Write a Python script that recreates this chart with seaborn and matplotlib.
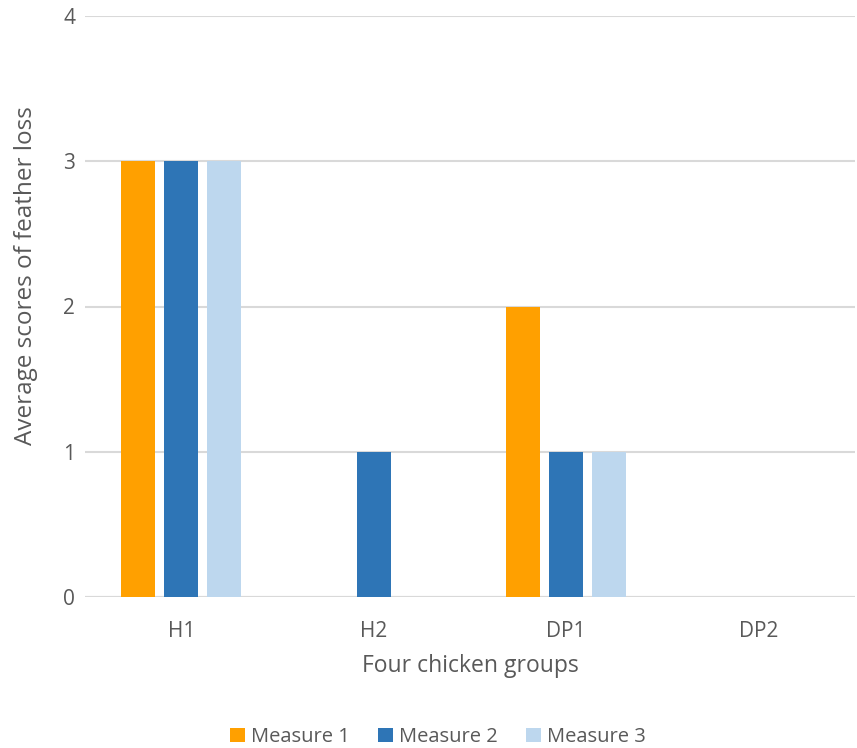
import matplotlib
matplotlib.use("Agg")
import matplotlib.pyplot as plt
import seaborn as sns
import pandas as pd
from matplotlib.patches import Patch

groups = ["H1", "H2", "DP1", "DP2"]
measure_1 = [3, 0, 2, 0]
measure_2 = [3, 1, 1, 0]
measure_3 = [3, 0, 1, 0]
series_names = ["Measure 1", "Measure 2", "Measure 3"]
colors = ["#FFA000", "#2E75B6", "#BDD7EE"]

df = pd.DataFrame({
    "group": groups * 3,
    "score": measure_1 + measure_2 + measure_3,
    "measure": [s for s in series_names for _ in groups],
})

sns.set_theme(style="white")
plt.rcParams["font.family"] = ["Open Sans", "DejaVu Sans"]
text_color = "#595959"

W, H = 857, 748
fig = plt.figure(figsize=(W / 100, H / 100), dpi=100)
ax = fig.add_axes([85 / W, 1 - 597 / H, (855 - 85) / W, (597 - 16) / H])

sns.barplot(data=df, x="group", y="score", hue="measure", palette=colors,
            width=0.668, gap=0.21, ax=ax, legend=False, saturation=1,
            linewidth=0)

ax.set_ylim(0, 4)
ax.set_yticks([0, 1, 2, 3, 4])
ax.yaxis.grid(True, color="#D9D9D9", linewidth=1.5)
ax.set_axisbelow(True)
for s in ax.spines.values():
    s.set_visible(False)
ax.axhline(0, color="#D9D9D9", linewidth=1.5, zorder=0.5)
ax.tick_params(axis="both", length=0, colors=text_color, labelsize=15)
ax.tick_params(axis="y", pad=7)
ax.tick_params(axis="x", pad=17)
ax.set_xlabel("Four chicken groups", color=text_color, fontsize=16.5, labelpad=9)
ax.set_ylabel("Average scores of feather loss", color=text_color, fontsize=17.5)
# anchor the y label in pixel terms (right edge x=38, centre y=276)
ax.yaxis.set_label_coords((38 - 85) / (855 - 85), (597 - 276) / (597 - 16))

handles = [Patch(facecolor=c, edgecolor="none") for c in colors]
fig.legend(handles, series_names, loc="center", bbox_to_anchor=(438 / W, 1 - 737 / H),
           ncol=3, frameon=False, fontsize=14.5, labelcolor=text_color,
           handlelength=0.75, handleheight=0.75, handletextpad=0.3, columnspacing=1.4)

fig.savefig("out.png", dpi=100)
